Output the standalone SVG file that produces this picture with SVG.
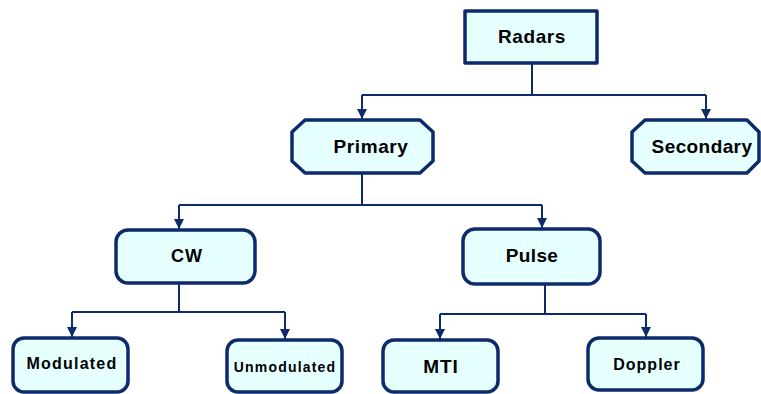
<svg xmlns="http://www.w3.org/2000/svg" width="761" height="394" viewBox="0 0 761 394">
<defs>
<style>
.box{fill:#e6ffff;stroke:#0d2b6b;stroke-width:3.5;stroke-linejoin:round}
.ln{fill:none;stroke:#0d2b6b;stroke-width:2}
.t{font-family:"Liberation Sans",Arial,sans-serif;font-weight:bold;fill:#000;text-anchor:middle}
</style>
<marker id="ah" viewBox="0 0 10 10" refX="10" refY="5" markerWidth="5" markerHeight="5" markerUnits="strokeWidth" orient="auto">
<path d="M0,0 L10,5 L0,10 Z" fill="#0d2b6b"/>
</marker>
</defs>
<rect width="761" height="394" fill="#fff"/>
<g id="connectors">
<path class="ln" d="M532,63 V95"/>
<path class="ln" d="M362,95 H706"/>
<path class="ln" d="M362,95 V119" marker-end="url(#ah)"/>
<path class="ln" d="M706,95 V119" marker-end="url(#ah)"/>
<path class="ln" d="M362,173 V205"/>
<path class="ln" d="M179,205 H542"/>
<path class="ln" d="M179,205 V229" marker-end="url(#ah)"/>
<path class="ln" d="M542,205 V228" marker-end="url(#ah)"/>
<path class="ln" d="M179,283 V312"/>
<path class="ln" d="M72,312 H285"/>
<path class="ln" d="M72,312 V337" marker-end="url(#ah)"/>
<path class="ln" d="M285,312 V339" marker-end="url(#ah)"/>
<path class="ln" d="M545,284 V314"/>
<path class="ln" d="M440,314 H646"/>
<path class="ln" d="M440,314 V339" marker-end="url(#ah)"/>
<path class="ln" d="M646,314 V337" marker-end="url(#ah)"/>
</g>
<g id="radars">
<rect class="box" x="465" y="11" width="132" height="52"/>
<text class="t" x="532" y="43" font-size="19" letter-spacing="0.6">Radars</text>
</g>
<g id="primary">
<path class="box" d="M305,120 H420 L433,132 V161 L420,173 H305 L292,161 V132 Z"/>
<text class="t" x="371" y="153" font-size="19" letter-spacing="0.6">Primary</text>
</g>
<g id="secondary">
<path class="box" d="M645,120 H747 L759,132 V161 L747,173 H645 L632,161 V132 Z"/>
<text class="t" x="702" y="153" font-size="19" letter-spacing="0.4">Secondary</text>
</g>
<g id="cw">
<rect class="box" x="116" y="230" width="139" height="53" rx="12"/>
<text class="t" x="187" y="262" font-size="18" letter-spacing="1">CW</text>
</g>
<g id="pulse">
<rect class="box" x="463" y="229" width="137" height="55" rx="12"/>
<text class="t" x="532" y="262" font-size="19" letter-spacing="0.4">Pulse</text>
</g>
<g id="modulated">
<rect class="box" x="13" y="338" width="115" height="54" rx="11"/>
<text class="t" x="72" y="369" font-size="16" letter-spacing="1.2">Modulated</text>
</g>
<g id="unmodulated">
<rect class="box" x="227" y="340" width="115" height="52" rx="11"/>
<text class="t" x="285" y="372" font-size="14" letter-spacing="1.2">Unmodulated</text>
</g>
<g id="mti">
<rect class="box" x="383" y="340" width="115" height="52" rx="11"/>
<text class="t" x="441" y="373" font-size="19" letter-spacing="1">MTI</text>
</g>
<g id="doppler">
<rect class="box" x="588" y="338" width="115" height="52" rx="11"/>
<text class="t" x="647" y="370" font-size="16" letter-spacing="1">Doppler</text>
</g>
</svg>
